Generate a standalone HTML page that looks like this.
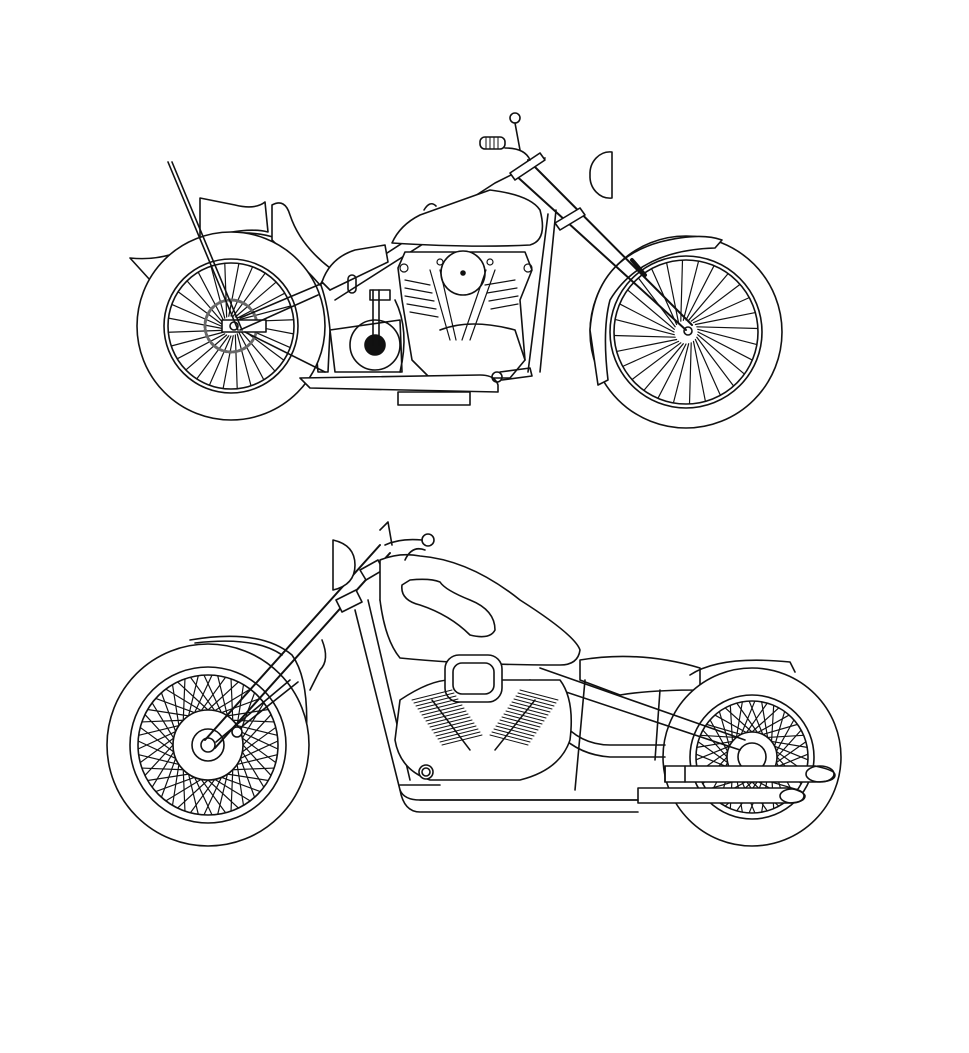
<!DOCTYPE html>
<html><head><meta charset="utf-8"><style>
html,body{margin:0;padding:0;background:#fff;}
svg{display:block}
</style></head><body>
<svg id="s" width="969" height="1053" viewBox="0 0 969 1053" xmlns="http://www.w3.org/2000/svg">
<g fill="none" stroke="#111" stroke-width="1.6" stroke-linejoin="round" stroke-linecap="round">
<!-- ===== TOP BIKE ===== -->
<path d="M130,258 Q170,262 200,240 Q260,222 300,250 Q325,275 330,330 L328,372 L318,372 Q312,290 270,262 Q230,242 190,262 Q160,275 150,280 Z" fill="#fff"/>
<path d="M200,198 L235,205 Q255,210 265,202 L268,232 Q245,226 200,240 Z" fill="#fff"/>
<path d="M272,205 Q285,198 290,215 Q300,245 330,268 L320,285 Q300,262 280,248 L272,240 Z" fill="#fff"/>
<circle cx="231" cy="326" r="94" fill="#fff"/>
<circle cx="231" cy="326" r="67"/>
<circle cx="231" cy="326" r="63"/>
<g id="sp1"></g>
<circle cx="231" cy="326" r="26" stroke="#666" stroke-width="3" stroke-dasharray="3 2"/>
<rect x="222" y="320" width="44" height="12" fill="#fff"/>
<circle cx="234" cy="326" r="4"/>
<path d="M240,318 L330,280 M245,332 L325,372"/>
<path d="M240,330 L318,295"/>
<path d="M168,162 L238,330 M172,162 L242,330"/>
<path d="M330,290 L495,183 L545,158 M335,300 L500,195"/>
<path d="M392,243 Q400,225 420,215 L490,190 Q530,195 540,210 Q548,240 530,245 Q470,248 392,243 Z" fill="#fff"/>
<path d="M424,210 Q430,200 436,206"/>
<path d="M322,282 Q330,258 355,250 L385,245 L388,262 L330,290 Z" fill="#fff"/>
<path d="M548,214 L528,372 M556,210 L540,372"/>
<path d="M398,268 L405,252 L525,252 L532,270 L520,300 L525,360 L510,378 L430,378 L412,360 L402,300 Z" fill="#fff"/>
<circle cx="463" cy="273" r="22" fill="#fff"/>
<circle cx="463" cy="273" r="2" fill="#111"/>
<g stroke-width="1.2">
<path d="M405,280 L430,285 M405,288 L432,293 M405,296 L434,301 M407,304 L436,309 M410,312 L438,317 M485,285 L515,280 M487,293 L517,288 M489,301 L518,296 M491,309 L518,304"/>
<path d="M430,270 L450,340 M440,270 L456,340 M495,270 L470,340 M486,270 L462,340"/>
<circle cx="404" cy="268" r="4"/><circle cx="528" cy="268" r="4"/><circle cx="440" cy="262" r="3"/><circle cx="490" cy="262" r="3"/>
</g>
<path d="M440,330 Q470,318 515,330 L525,360"/>
<path d="M330,330 L400,320 L402,372 L335,372 Z" fill="#fff"/>
<circle cx="375" cy="345" r="25"/>
<circle cx="375" cy="345" r="10" fill="#111"/>
<path d="M373,290 L373,345 M379,290 L379,345"/>
<path d="M370,290 L390,290 L390,300 L370,300 Z"/>
<rect x="348" y="275" width="8" height="18" rx="4"/>
<path d="M300,378 L480,375 Q495,375 498,385 L498,392 L310,388 Z" fill="#fff"/>
<path d="M398,392 L470,392 L470,405 L398,405 Z" fill="#fff"/>
<path d="M395,300 Q410,330 400,372"/>
<circle cx="497" cy="377" r="5"/>
<path d="M500,372 L530,368 L532,376 L502,380"/>
<circle cx="686" cy="332" r="96" fill="#fff"/>
<circle cx="686" cy="332" r="76"/>
<circle cx="686" cy="332" r="72"/>
<g id="sp2"></g>
<path d="M590,330 Q595,260 660,242 Q700,232 722,240 L715,248 Q640,250 610,300 Q602,330 608,380 L598,385 Z" fill="#fff"/>
<path d="M512,172 L686,330 M528,160 L692,325" stroke-width="2"/>
<path d="M560,230 L585,215 L580,208 L555,223 Z M515,180 L545,160 L540,153 L510,173 Z" fill="#fff"/>
<path d="M632,260 L645,275" stroke-width="4"/>
<circle cx="688" cy="331" r="4"/>
<path d="M590,175 A20,22 0 0 1 612,152 L612,198 A20,22 0 0 1 590,175 Z" fill="#fff"/>
<path d="M505,148 Q525,148 530,160"/>
<rect x="480" y="137" width="25" height="12" rx="5" fill="#fff"/>
<g stroke-width="1"><path d="M486,137 V149 M490,137 V149 M494,137 V149 M498,137 V149"/></g>
<circle cx="515" cy="118" r="5"/>
<path d="M515,123 L520,150"/>

<!-- ===== BOTTOM BIKE ===== -->
<path d="M190,640 Q260,628 292,655 Q310,680 306,740" />
<path d="M195,643 Q255,636 282,655"/>
<circle cx="208" cy="745" r="101" fill="#fff"/>
<circle cx="208" cy="745" r="78"/>
<circle cx="208" cy="745" r="70"/>
<g id="sp3"></g>
<circle cx="208" cy="745" r="35" fill="#fff"/>
<circle cx="208" cy="745" r="16"/>
<circle cx="208" cy="745" r="7"/>
<path d="M205,740 L380,545 M215,748 L390,553" stroke-width="2"/>
<path d="M216,742 L290,680 M235,732 L298,682"/>
<circle cx="237" cy="732" r="5" fill="#fff"/>
<path d="M336,600 L356,590 L362,602 L342,612 Z M360,570 L378,560 L383,570 L366,580 Z" fill="#fff"/>
<path d="M322,640 Q330,660 320,670 L310,690"/>
<path d="M333,540 Q355,545 355,565 Q355,585 333,590 Z" fill="#fff"/>
<circle cx="428" cy="540" r="6" fill="#fff"/>
<path d="M385,545 Q400,538 422,540"/>
<path d="M380,530 L388,522 L392,545"/>
<path d="M580,660 Q640,650 700,668 L700,690 Q650,690 620,695 L580,680 Z" fill="#fff"/>
<path d="M690,675 Q720,655 790,662 L795,672"/>
<circle cx="752" cy="757" r="89" fill="#fff"/>
<circle cx="752" cy="757" r="62"/>
<circle cx="752" cy="757" r="56"/>
<g id="sp4"></g>
<circle cx="752" cy="757" r="25" fill="#fff"/>
<circle cx="752" cy="757" r="14"/>
<path d="M355,610 L400,790 Q404,800 420,800 L660,800 M368,600 L410,780"/>
<path d="M380,600 Q400,640 405,650" />
<path d="M530,680 L740,750 M540,668 L745,740"/>
<path d="M560,720 Q580,745 610,745 L665,745 M560,735 Q580,755 610,757 L665,757"/>
<path d="M585,680 L575,790 M660,690 L655,760"/>
<path d="M380,560 Q400,552 420,556 Q470,560 520,600 Q575,635 580,650 Q578,665 560,665 Q470,665 400,658 Q385,640 380,600 Z" fill="#fff"/>
<path d="M402,585 Q400,600 420,605 Q450,615 470,635 Q490,640 495,630 Q495,610 470,600 Q445,590 440,582 Q430,578 410,580 Z"/>
<path d="M405,560 Q412,545 425,550" />
<path d="M400,700 Q430,680 450,680 L560,680 Q575,700 570,740 Q560,770 520,780 L430,780 Q400,770 395,740 Z" fill="#fff"/>
<rect x="445" y="655" width="57" height="47" rx="14" fill="#fff"/>
<rect x="453" y="663" width="41" height="31" rx="9"/>
<g id="fins" stroke-width="1"></g>
<path d="M400,785 L440,785"/>
<circle cx="426" cy="772" r="7" fill="#fff"/>
<circle cx="426" cy="772" r="4"/>
<path d="M665,766 L815,766 Q835,770 835,775 Q835,782 815,782 L665,782 Z" fill="#fff"/>
<path d="M665,766 L665,782 M685,766 L685,782"/>
<ellipse cx="820" cy="774" rx="14" ry="8"/>
<path d="M638,788 L790,788 Q805,792 805,796 Q805,802 790,803 L638,803 Z" fill="#fff"/>
<ellipse cx="792" cy="796" rx="12" ry="7"/>
<path d="M420,800 L638,800 M400,790 Q404,812 420,812 L638,812"/>
</g>
</svg>
<script>
var NS="http://www.w3.org/2000/svg";
function line(g,x1,y1,x2,y2,w){var l=document.createElementNS(NS,"line");l.setAttribute("x1",x1);l.setAttribute("y1",y1);l.setAttribute("x2",x2);l.setAttribute("y2",y2);l.setAttribute("stroke-width",w||1.2);g.appendChild(l);}
function spokes(id,cx,cy,r1,r2,n,off,cross){var g=document.getElementById(id);for(var i=0;i<n;i++){var a=i*2*Math.PI/n;var b=a+(cross||0);line(g,cx+r1*Math.cos(a),cy+r1*Math.sin(a),cx+r2*Math.cos(b+off),cy+r2*Math.sin(b+off));}}
spokes("sp1",231,326,10,63,28,0,0.35);
spokes("sp2",686,332,12,72,28,0,0.4);
spokes("sp3",208,745,35,70,32,0,0.45);
spokes("sp3",208,745,35,70,32,0,-0.45);
spokes("sp4",752,757,25,56,28,0,0.5);
spokes("sp4",752,757,25,56,28,0,-0.5);
var f=document.getElementById("fins");
for(var i=0;i<16;i++){line(f,412+i*2,700+i*3,452+i*2,690+i*3,1);line(f,520-i*2,690+i*3,558-i*2,700+i*3,1);}
line(f,432,700,470,750,1.5);line(f,535,700,495,750,1.5);
</script>
</body></html>
